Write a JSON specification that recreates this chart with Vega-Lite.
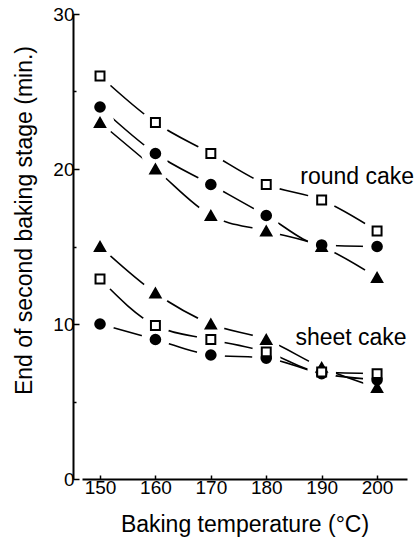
{
  "$schema": "https://vega.github.io/schema/vega-lite/v6.json",
  "width": 325,
  "height": 465,
  "autosize": "none",
  "padding": {"left": 82, "top": 14, "right": 13, "bottom": 61},
  "background": "white",
  "config": {
    "view": {"stroke": null},
    "font": "Liberation Sans",
    "axis": {
      "domainColor": "black",
      "domainWidth": 2,
      "tickColor": "black",
      "tickWidth": 1.5,
      "grid": false,
      "labelFont": "Liberation Sans",
      "labelFontSize": 19,
      "labelColor": "black",
      "titleFont": "Liberation Sans",
      "titleFontSize": 23,
      "titleFontWeight": "normal",
      "titleColor": "black"
    }
  },
  "datasets": {
    "pts": [
      {"temp": 150, "time": 10, "series": "sheet-circle", "marker": "circle"},
      {"temp": 160, "time": 9, "series": "sheet-circle", "marker": "circle"},
      {"temp": 170, "time": 8, "series": "sheet-circle", "marker": "circle"},
      {"temp": 180, "time": 7.8, "series": "sheet-circle", "marker": "circle"},
      {"temp": 190, "time": 6.8, "series": "sheet-circle", "marker": "circle"},
      {"temp": 200, "time": 6.4, "series": "sheet-circle", "marker": "circle"},
      {"temp": 150, "time": 26, "series": "round-square", "marker": "square"},
      {"temp": 160, "time": 23, "series": "round-square", "marker": "square"},
      {"temp": 170, "time": 21, "series": "round-square", "marker": "square"},
      {"temp": 180, "time": 19, "series": "round-square", "marker": "square"},
      {"temp": 190, "time": 18, "series": "round-square", "marker": "square"},
      {"temp": 200, "time": 16, "series": "round-square", "marker": "square"},
      {"temp": 150, "time": 23, "series": "round-triangle", "marker": "triangle"},
      {"temp": 160, "time": 20, "series": "round-triangle", "marker": "triangle"},
      {"temp": 170, "time": 17, "series": "round-triangle", "marker": "triangle"},
      {"temp": 180, "time": 16, "series": "round-triangle", "marker": "triangle"},
      {"temp": 190, "time": 15, "series": "round-triangle", "marker": "triangle"},
      {"temp": 200, "time": 13, "series": "round-triangle", "marker": "triangle"},
      {"temp": 150, "time": 24, "series": "round-circle", "marker": "circle"},
      {"temp": 160, "time": 21, "series": "round-circle", "marker": "circle"},
      {"temp": 170, "time": 19, "series": "round-circle", "marker": "circle"},
      {"temp": 180, "time": 17, "series": "round-circle", "marker": "circle"},
      {"temp": 190, "time": 15.1, "series": "round-circle", "marker": "circle"},
      {"temp": 200, "time": 15, "series": "round-circle", "marker": "circle"},
      {"temp": 150, "time": 15, "series": "sheet-triangle", "marker": "triangle"},
      {"temp": 160, "time": 12, "series": "sheet-triangle", "marker": "triangle"},
      {"temp": 170, "time": 10, "series": "sheet-triangle", "marker": "triangle"},
      {"temp": 180, "time": 9, "series": "sheet-triangle", "marker": "triangle"},
      {"temp": 190, "time": 7.2, "series": "sheet-triangle", "marker": "triangle"},
      {"temp": 200, "time": 5.9, "series": "sheet-triangle", "marker": "triangle"},
      {"temp": 150, "time": 12.9, "series": "sheet-square", "marker": "square"},
      {"temp": 160, "time": 9.9, "series": "sheet-square", "marker": "square"},
      {"temp": 170, "time": 9, "series": "sheet-square", "marker": "square"},
      {"temp": 180, "time": 8.2, "series": "sheet-square", "marker": "square"},
      {"temp": 190, "time": 6.9, "series": "sheet-square", "marker": "square"},
      {"temp": 200, "time": 6.8, "series": "sheet-square", "marker": "square"}
    ],
    "labels": [
      {"temp": 196.4, "time": 19.5, "text": "round cake"},
      {"temp": 195.3, "time": 9.1, "text": "sheet cake"}
    ]
  },
  "layer": [
    {
      "data": {"name": "pts"},
      "mark": {"type": "line", "interpolate": "monotone", "color": "black", "strokeWidth": 1.6},
      "encoding": {
        "x": {
          "field": "temp", "type": "quantitative",
          "scale": {"domain": [146.75, 205.4], "nice": false, "zero": false},
          "axis": {
            "values": [150, 160, 170, 180, 190, 200],
            "tickSize": -4,
            "labelPadding": 3,
            "labelFontSize": 19,
            "labelColor": "black",
            "title": "Baking temperature (°C)",
            "titlePadding": 16
          }
        },
        "y": {
          "field": "time", "type": "quantitative",
          "scale": {"domain": [0, 30], "nice": false},
          "axis": {
            "values": [0, 5, 10, 15, 20, 25, 30],
            "labelExpr": "datum.value % 10 == 0 ? datum.label : ''",
            "tickSize": {"condition": {"test": "datum.value % 10 == 0", "value": -6}, "value": -3},
            "offset": 9,
            "labelPadding": 5,
            "labelFontSize": 19,
            "labelColor": "black",
            "title": "End of second baking stage (min.)",
            "titlePadding": 16,
            "titleY": 206
          }
        },
        "detail": {"field": "series"}
      }
    },
    {
      "data": {"name": "pts"},
      "mark": {"type": "point", "filled": true, "shape": "circle", "color": "white", "size": 800, "opacity": 1},
      "encoding": {
        "x": {"field": "temp", "type": "quantitative"},
        "y": {"field": "time", "type": "quantitative"}
      }
    },
    {
      "data": {"name": "pts"},
      "mark": {"type": "point", "stroke": "black", "strokeWidth": 2, "opacity": 1},
      "encoding": {
        "x": {"field": "temp", "type": "quantitative"},
        "y": {"field": "time", "type": "quantitative"},
        "shape": {
          "field": "marker", "type": "nominal",
          "scale": {"domain": ["square", "circle", "triangle"], "range": ["square", "circle", "triangle-up"]},
          "legend": null
        },
        "fill": {
          "field": "marker", "type": "nominal",
          "scale": {"domain": ["square", "circle", "triangle"], "range": ["white", "black", "black"]},
          "legend": null
        },
        "size": {
          "field": "marker", "type": "nominal",
          "scale": {"domain": ["square", "circle", "triangle"], "range": [80, 105, 95]},
          "legend": null
        }
      }
    },
    {
      "data": {"name": "labels"},
      "mark": {"type": "text", "fontSize": 23, "font": "Liberation Sans", "color": "black", "align": "center", "baseline": "middle"},
      "encoding": {
        "x": {"field": "temp", "type": "quantitative"},
        "y": {"field": "time", "type": "quantitative"},
        "text": {"field": "text"}
      }
    }
  ]
}
